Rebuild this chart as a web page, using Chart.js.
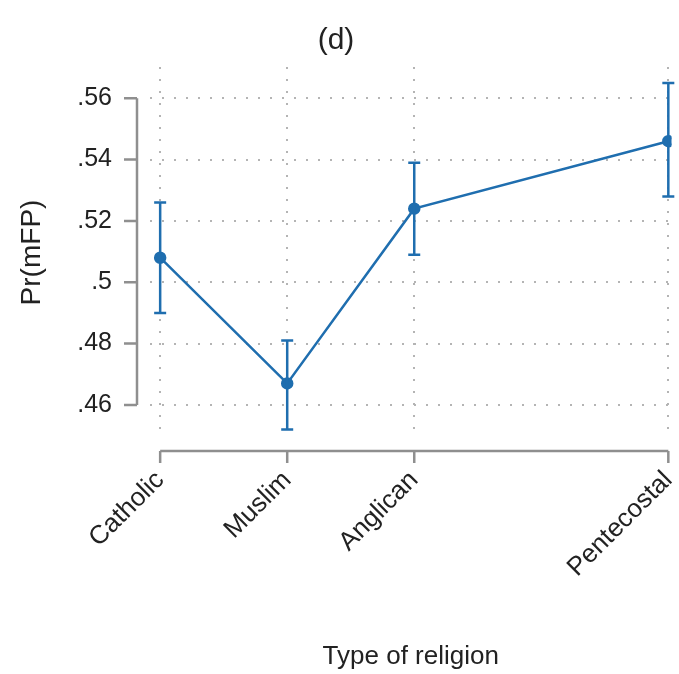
<!DOCTYPE html>
<html>
<head>
<meta charset="utf-8">
<script src="https://cdn.jsdelivr.net/npm/chart.js@4"></script>
<style>
  body { margin: 0; background: #fff; }
  canvas { display: block; }
</style>
</head>
<body>
<canvas id="marginsChart" width="679" height="674"></canvas>
<script>
// Predicted Pr(mFP) by religion, with 95% CIs
const religions = ['Catholic', 'Muslim', 'Anglican', 'Pentecostal'];
const religionCodes = [1, 2, 3, 5];
const prob = [0.508, 0.467, 0.524, 0.546];
const ciLow = [0.490, 0.452, 0.509, 0.528];
const ciHigh = [0.526, 0.481, 0.539, 0.565];
const yTicks = [0.46, 0.48, 0.50, 0.52, 0.54, 0.56];

const blue = '#1f6eaf';
const axisGray = '#8f8f8f';
const font = "Arial, 'Liberation Sans', sans-serif";

// error bars + Stata-style detached axes
const extras = {
  id: 'extras',
  afterDatasetsDraw(chart) {
    const { ctx, chartArea, scales: { x, y } } = chart;
    ctx.save();
    // CI bars
    ctx.strokeStyle = blue;
    ctx.lineWidth = 2.5;
    religionCodes.forEach((c, i) => {
      const px = x.getPixelForValue(c);
      const lo = y.getPixelForValue(ciLow[i]);
      const hi = y.getPixelForValue(ciHigh[i]);
      ctx.beginPath();
      ctx.moveTo(px, lo); ctx.lineTo(px, hi);
      ctx.moveTo(px - 6, lo); ctx.lineTo(px + 6, lo);
      ctx.moveTo(px - 6, hi); ctx.lineTo(px + 6, hi);
      ctx.stroke();
    });
    // y axis
    ctx.strokeStyle = axisGray;
    ctx.lineWidth = 2.5;
    const ax = chartArea.left - 13;
    ctx.beginPath();
    ctx.moveTo(ax, y.getPixelForValue(yTicks[yTicks.length - 1]));
    ctx.lineTo(ax, y.getPixelForValue(yTicks[0]));
    yTicks.forEach(v => {
      const py = y.getPixelForValue(v);
      ctx.moveTo(ax - 13, py); ctx.lineTo(ax, py);
    });
    // x axis
    const ay = chartArea.bottom + 13;
    ctx.moveTo(x.getPixelForValue(religionCodes[0]), ay);
    ctx.lineTo(x.getPixelForValue(religionCodes[religionCodes.length - 1]), ay);
    religionCodes.forEach(c => {
      const px = x.getPixelForValue(c);
      ctx.moveTo(px, ay); ctx.lineTo(px, ay + 12);
    });
    ctx.stroke();
    ctx.restore();
  }
};

const ctx = document.getElementById('marginsChart');
new Chart(ctx, {
  type: 'scatter',
  data: {
    datasets: [{
      label: 'Pr(mFP)',
      data: religionCodes.map((c, i) => ({ x: c, y: prob[i] })),
      showLine: true,
      borderColor: blue,
      backgroundColor: blue,
      borderWidth: 2.5,
      pointRadius: 5,
      pointHoverRadius: 5
    }]
  },
  options: {
    responsive: false,
    animation: false,
    layout: { padding: { left: 0, right: 7, top: 0, bottom: 0 } },
    plugins: {
      legend: { display: false },
      tooltip: { enabled: false },
      title: {
        display: true,
        text: '(d)',
        color: '#222',
        font: { family: font, size: 30, weight: 'normal' },
        padding: { top: 23, bottom: 8 }
      }
    },
    scales: {
      x: {
        type: 'linear',
        min: 0.92,
        max: 5.025,
        afterBuildTicks: s => { s.ticks = religionCodes.map(v => ({ value: v })); },
        afterFit: s => { s.height = 236; s.paddingLeft = 0; s.paddingRight = 0; },
        ticks: {
          autoSkip: false,
          minRotation: 45,
          maxRotation: 45,
          padding: 27,
          color: '#222',
          font: { family: font, size: 26 },
          callback: v => religions[religionCodes.indexOf(v)]
        },
        grid: { color: '#b4b4b4', lineWidth: 2, drawTicks: false },
        border: { display: false, dash: [2, 10] },
        title: {
          display: true,
          text: 'Type of religion',
          color: '#222',
          font: { family: font, size: 26 },
          padding: { top: 0, bottom: 2 }
        }
      },
      y: {
        min: 0.4492,
        max: 0.5702,
        afterBuildTicks: s => { s.ticks = yTicks.map(v => ({ value: v })); },
        afterFit: s => { s.width = 150; },
        ticks: {
          padding: 38,
          color: '#222',
          font: { family: font, size: 25 },
          callback: v => (+v.toFixed(2)).toString().replace(/^0/, '')
        },
        grid: { color: '#b4b4b4', lineWidth: 2, drawTicks: false },
        border: { display: false, dash: [2, 10] },
        title: {
          display: true,
          text: 'Pr(mFP)',
          color: '#222',
          font: { family: font, size: 28 },
          padding: { top: 15, bottom: 0 }
        }
      }
    }
  },
  plugins: [extras]
});
</script>
</body>
</html>
